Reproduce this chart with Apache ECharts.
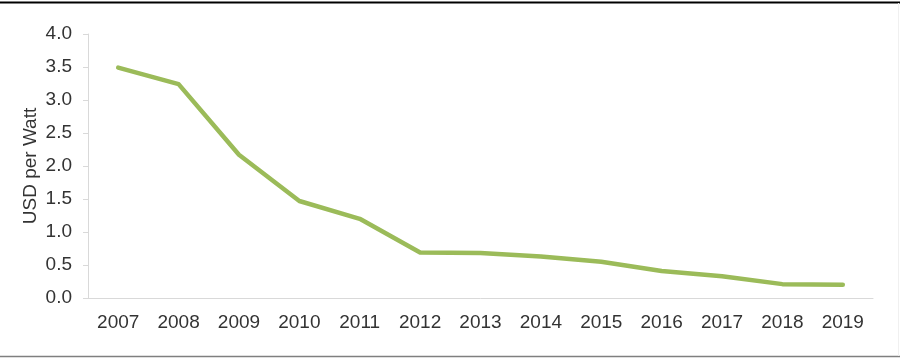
<!DOCTYPE html>
<html><head><meta charset="utf-8">
<script src="https://cdn.jsdelivr.net/npm/echarts@6/dist/echarts.min.js"></script>
<style>html,body{margin:0;padding:0;background:#fff}#c{width:900px;height:360px}</style>
</head><body><div id="c"></div>
<script>
const years = ['2007','2008','2009','2010','2011','2012','2013','2014','2015','2016','2017','2018','2019'];
const usdPerWatt = [3.49, 3.24, 2.17, 1.47, 1.20, 0.69, 0.68, 0.63, 0.55, 0.41, 0.33, 0.21, 0.20];
const yTicks = {min: 0, max: 4, interval: 0.5};
const yName = 'USD per Watt';

const chart = echarts.init(document.getElementById('c'), null, {renderer: 'canvas'});
chart.setOption({
  animation: false,
  backgroundColor: '#fff',
  textStyle: {fontFamily: 'Liberation Sans, Arial, sans-serif'},
  grid: {left: 88, right: 27, top: 34, bottom: 62, containLabel: false},
  graphic: [
    {type: 'line', shape: {x1: 0, y1: 2.5, x2: 900, y2: 2.5}, style: {stroke: '#000', lineWidth: 2}},
    {type: 'line', shape: {x1: 0, y1: 356.5, x2: 900, y2: 356.5}, style: {stroke: '#7f7f7f', lineWidth: 1.5}},
    {type: 'line', shape: {x1: 898.5, y1: 3, x2: 898.5, y2: 356}, style: {stroke: '#f0f0f0', lineWidth: 1}}
  ],
  xAxis: {
    type: 'category',
    data: years,
    boundaryGap: true,
    axisLine: {lineStyle: {color: '#d9d9d9', width: 1}},
    axisTick: {show: false},
    axisLabel: {color: '#333333', fontSize: 19, margin: 15, interval: 0},
    splitLine: {show: false}
  },
  yAxis: {
    type: 'value',
    min: yTicks.min, max: yTicks.max, interval: yTicks.interval,
    name: yName,
    nameLocation: 'middle',
    nameGap: 48,
    nameMoveOverlap: false,
    nameTextStyle: {color: '#333333', fontSize: 19},
    axisLine: {show: true, lineStyle: {color: '#d9d9d9', width: 1}},
    axisTick: {show: true, length: 5, lineStyle: {color: '#d9d9d9'}},
    axisLabel: {color: '#333333', fontSize: 19, margin: 16, formatter: v => v.toFixed(1)},
    splitLine: {show: false}
  },
  series: [{
    type: 'line',
    data: usdPerWatt,
    showSymbol: false,
    symbol: 'none',
    smooth: false,
    lineStyle: {color: '#9bbb59', width: 4.5, cap: 'round', join: 'round'}
  }]
});
</script></body></html>
